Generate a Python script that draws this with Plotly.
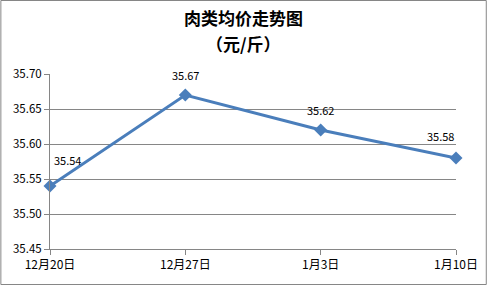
import plotly.graph_objects as go

dates = ["12月20日", "12月27日", "1月3日", "1月10日"]
prices = [35.54, 35.67, 35.62, 35.58]
title_lines = ["肉类均价走势图", "（元/斤）"]

W, H = 490, 285
ml, mr, mt, mb = 50, 31, 74, 36
pw, ph = W - ml - mr, H - mt - mb

font_family = "Noto Sans CJK SC, DejaVu Sans, sans-serif"

fig = go.Figure()
fig.add_trace(go.Scatter(
    x=dates, y=prices, mode="lines+markers",
    line=dict(color="#4a7ebb", width=3),
    marker=dict(symbol="diamond", size=10, color="#4a7ebb"),
    cliponaxis=False,
    showlegend=False,
))

# data labels
anchors = ["left", "center", "center", "right"]
xshifts = [2, 0, 0, 0]
yshifts = [26, 20, 20, 22]
for d, v, a, xs, ys in zip(dates, prices, anchors, xshifts, yshifts):
    fig.add_annotation(x=d, y=v, text=f"{v:.2f}", showarrow=False,
                       xanchor=a, yanchor="middle", xshift=xs, yshift=ys,
                       font=dict(family=font_family, size=11, color="#000000"))

# title lines
for i, (t, py) in enumerate(zip(title_lines, [17, 43])):
    fig.add_annotation(xref="paper", yref="paper",
                       x=(W / 2 - ml) / pw, y=1 + (mt - py) / ph,
                       text=f"<b>{t}</b>", showarrow=False,
                       xanchor="center", yanchor="middle",
                       font=dict(family=font_family, size=17, color="#000000"))

fig.update_layout(
    width=W, height=H,
    margin=dict(l=ml, r=mr, t=mt, b=mb),
    paper_bgcolor="white", plot_bgcolor="white",
    xaxis=dict(type="category", range=[0, 3], showgrid=False, showline=True,
               linecolor="#868686", linewidth=1, ticks="outside", ticklen=5,
               tickcolor="#868686",
               tickfont=dict(family=font_family, size=12, color="#000000")),
    yaxis=dict(range=[35.45, 35.70], dtick=0.05, tickformat=".2f",
               showgrid=True, gridcolor="#868686", gridwidth=1, zeroline=False,
               showline=True, linecolor="#868686", linewidth=1,
               ticks="outside", ticklen=5, tickcolor="#868686",
               tickfont=dict(family=font_family, size=11.5, color="#000000")),
)

fig.add_shape(type="rect", xref="paper", yref="paper",
              x0=(0.5 - ml) / pw, x1=(W - 0.5 - ml) / pw,
              y0=-(H - 0.5 - mt - ph) / ph, y1=1 + (mt - 0.5) / ph,
              line=dict(color="#868686", width=1))

fig.write_html("out.html")
